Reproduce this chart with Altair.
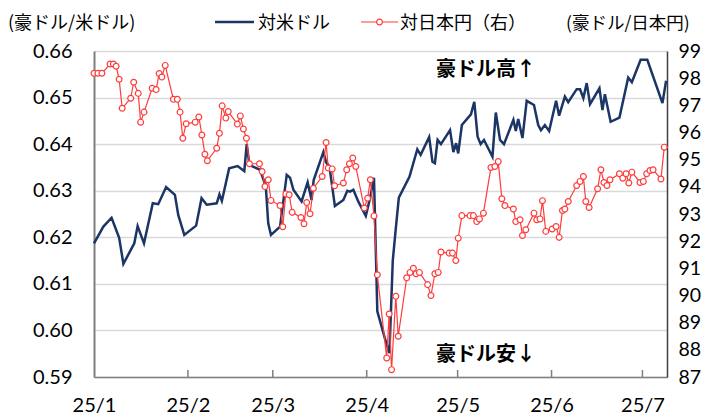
import altair as alt
import pandas as pd

# ---- data (day offset from 2025-01-01, value) ----
usd_day = [0.0,3.1,5.8,8.3,9.7,13.3,14.4,16.5,19.4,21.2,23.8,26.7,27.8,29.8,33.7,35.5,37.2,40.5,41.4,42.2,
           44.6,47.4,49.6,50.4,51.3,54.8,56.7,57.5,58.4,61.4,63.6,64.7,65.8,68.5,70.5,71.8,72.5,75.7,76.6,77.7,
           79.5,82.3,83.6,84.5,85.6,87.2,89.7,91.1,92.4,93.5,96.0,97.5,98.6,99.5,100.6,104.1,106.7,107.8,110.6,111.7,
           112.5,113.4,114.5,117.5,118.6,119.5,120.2,121.4,124.4,125.5,126.6,127.6,128.7,131.5,132.6,134.0,135.3,138.4,139.2,140.0,
           141.4,142.8,145.2,146.6,147.5,148.8,150.2,152.5,153.5,155.4,156.5,159.3,160.4,161.5,162.6,163.7,166.8,167.8,168.6,170.5,
           173.4,176.3,177.5,180.4,182.6,187.6,188.8]
usd_val = [0.6187,0.6223,0.6242,0.6199,0.6143,0.6187,0.6224,0.6187,0.6273,0.6271,0.6308,0.6291,0.6248,0.6205,0.6225,0.6284,0.6270,0.6273,0.6292,0.6278,
           0.6348,0.6353,0.6342,0.6400,0.6355,0.6345,0.6309,0.6230,0.6205,0.6223,0.6334,0.6328,0.6302,0.6277,0.6318,0.6280,0.6323,0.6383,0.6361,0.6352,
           0.6267,0.6280,0.6300,0.6298,0.6302,0.6277,0.6246,0.6284,0.6328,0.6041,0.5983,0.5951,0.6150,0.6212,0.6285,0.6330,0.6389,0.6377,0.6415,0.6362,
           0.6359,0.6409,0.6400,0.6430,0.6383,0.6402,0.6380,0.6441,0.6464,0.6491,0.6416,0.6400,0.6409,0.6373,0.6468,0.6409,0.6400,0.6452,0.6428,0.6454,
           0.6413,0.6493,0.6484,0.6441,0.6430,0.6441,0.6428,0.6493,0.6461,0.6502,0.6490,0.6518,0.6518,0.6499,0.6531,0.6486,0.6520,0.6473,0.6507,0.6448,
           0.6457,0.6543,0.6533,0.6581,0.6581,0.6488,0.6536]

jpy_day = [0.0,1.3,2.6,5.3,6.4,7.3,8.3,9.3,12.1,13.1,
           14.6,15.4,16.5,19.2,20.5,21.5,22.4,23.5,26.2,27.5,
           28.4,29.3,30.4,33.4,34.6,35.6,36.6,37.4,40.5,41.4,
           42.3,43.5,44.3,47.3,48.3,49.3,50.3,51.3,54.6,55.5,
           56.4,57.5,58.4,61.4,62.3,63.3,64.4,65.4,68.3,69.3,
           70.2,71.3,72.4,75.3,76.6,77.3,78.6,79.4,82.3,83.4,
           84.3,85.4,86.4,89.2,90.3,91.2,92.4,93.5,96.6,97.4,
           98.2,99.6,100.4,103.2,104.3,105.4,106.3,107.4,110.1,111.2,
           112.5,113.6,114.5,117.2,118.3,119.4,120.2,121.4,124.1,125.2,
           126.3,127.2,128.5,131.0,132.3,133.4,134.6,135.6,138.4,139.2,
           140.6,141.4,142.5,145.2,146.1,147.2,148.0,149.1,151.2,152.5,
           153.5,154.6,155.4,156.5,159.3,160.4,161.5,162.3,163.4,166.2,
           167.3,168.3,169.3,170.3,173.4,174.5,175.6,176.5,177.5,180.2,
           181.3,182.4,183.5,184.5,187.1,188.2]
jpy_val = [98.18,98.18,98.18,98.52,98.52,98.44,97.96,96.89,97.26,97.85,
           97.44,96.38,96.75,97.63,97.58,98.17,98.04,98.47,97.22,97.22,
           96.75,95.79,96.32,96.38,96.57,95.91,95.20,94.96,95.42,95.97,
           96.98,96.53,96.77,96.31,96.61,96.13,95.79,94.85,94.85,94.56,
           94.01,94.26,93.50,93.31,92.53,93.74,93.71,93.06,92.87,92.64,
           93.42,93.01,93.95,94.38,95.63,94.69,94.66,94.04,94.14,94.63,
           94.85,95.06,94.75,93.22,93.58,94.26,92.93,90.76,87.70,89.32,
           87.27,89.97,88.50,90.65,90.85,91.00,90.80,90.85,90.40,90.00,
           90.80,90.85,91.60,91.56,91.56,91.29,92.11,92.94,92.94,92.94,
           92.72,92.82,93.03,94.71,94.75,94.93,93.56,93.31,93.18,92.72,
           92.79,92.21,92.42,93.03,92.79,92.82,93.49,92.36,92.45,92.54,
           92.14,93.13,93.18,93.46,94.05,94.20,94.38,93.46,93.24,93.93,
           94.63,94.16,94.05,94.26,94.48,94.32,94.48,94.14,94.54,94.16,
           94.20,94.48,94.60,94.63,94.29,95.46]

left_ticks = [0.59, 0.60, 0.61, 0.62, 0.63, 0.64, 0.65, 0.66]
right_ticks = list(range(87, 100))
months = [1, 2, 3, 4, 5, 6, 7]
x_end_day = 189.1

NAVY = "#1b3566"
RED = "#ff3b3b"
NUMFONT = "Lato"
JPFONT = "Noto Sans CJK JP"

base = pd.Timestamp("2025-01-01", tz="UTC")
def iso(d):
    return (base + pd.to_timedelta(d, unit="D")).strftime("%Y-%m-%dT%H:%M:%SZ")
def ms(ts):
    return int(ts.timestamp() * 1000)

usd_df = pd.DataFrame({"date": [iso(d) for d in usd_day], "v": usd_val})
jpy_df = pd.DataFrame({"date": [iso(d) for d in jpy_day], "v": jpy_val})
month_ms = [ms(pd.Timestamp(f"2025-{m:02d}-01", tz="UTC")) for m in months]
tick_df = pd.DataFrame({"date": [pd.Timestamp(f"2025-{m:02d}-01", tz="UTC").strftime("%Y-%m-%dT%H:%M:%SZ") for m in months[1:]]})

W, H = 573, 326

x_enc = alt.X(
    "date:T",
    scale=alt.Scale(type="utc", domain=[ms(base), ms(base + pd.to_timedelta(x_end_day, unit="D"))]),
    axis=alt.Axis(values=month_ms, labelExpr="'25/' + (utcmonth(datum.value) + 1)",
                  ticks=False, grid=False, domainColor="#7f7f7f", domainWidth=1.5,
                  labelFont=NUMFONT, labelFontSize=20, labelColor="black", labelPadding=18,
                  labelFlush=False, labelOverlap=False, title=None),
)

usd = alt.Chart(usd_df).mark_line(color=NAVY, strokeWidth=2.5).encode(
    x=x_enc,
    y=alt.Y("v:Q", scale=alt.Scale(domain=[0.59, 0.66], zero=False, nice=False),
            axis=alt.Axis(orient="left", values=left_ticks, format=".2f", ticks=False,
                          grid=True, gridColor="#d9d9d9", gridWidth=1.5,
                          domainColor="#7f7f7f", domainWidth=2,
                          labelFont=NUMFONT, labelFontSize=20, labelColor="black",
                          labelPadding=22, title=None)),
)

jpy = alt.Chart(jpy_df).mark_line(
    color=RED, strokeWidth=1.2,
    point=alt.OverlayMarkDef(filled=True, fill="white", stroke=RED, strokeWidth=1.2, size=34, opacity=1),
).encode(
    x=x_enc,
    y=alt.Y("v:Q", scale=alt.Scale(domain=[87, 99], zero=False, nice=False),
            axis=alt.Axis(orient="right", values=right_ticks, ticks=False, grid=False,
                          domainColor="#404040", domainWidth=1.5,
                          labelFont=NUMFONT, labelFontSize=19.5, labelColor="black",
                          labelPadding=11, title=None)),
)

ticks = alt.Chart(tick_df).mark_rule(color="#7f7f7f", strokeWidth=1.5).encode(
    x=x_enc, y=alt.value(H - 7), y2=alt.value(H)
)

one = pd.DataFrame({"a": [0]})
def label(text, x, y, align="left", font=JPFONT, size=18, weight="normal", baseline="middle"):
    return alt.Chart(one).mark_text(text=text, align=align, baseline=baseline, font=font,
                                    fontSize=size, fontWeight=weight, color="black").encode(
        x=alt.value(x), y=alt.value(y))

TY = -22  # alphabetic baseline of the header row
title_l = label("(豪ドル/米ドル)", -86, TY, baseline="alphabetic")
title_r = label("(豪ドル/日本円)", 472, TY, size=17.5, baseline="alphabetic")
leg_usd_line = alt.Chart(one).mark_rule(color=NAVY, strokeWidth=2.5).encode(
    x=alt.value(121), x2=alt.value(160), y=alt.value(-29))
leg_usd_txt = label("対米ドル", 164, TY, baseline="alphabetic")
leg_jpy_line = alt.Chart(one).mark_rule(color=RED, strokeWidth=1.2).encode(
    x=alt.value(267), x2=alt.value(304), y=alt.value(-29))
leg_jpy_pt = alt.Chart(one).mark_point(filled=True, fill="white", stroke=RED, strokeWidth=1.2,
                                       size=34, opacity=1).encode(x=alt.value(285.5), y=alt.value(-29))
leg_jpy_txt = label("対日本円（右）", 306, TY, baseline="alphabetic")
ann_hi = label("豪ドル高↑", 392, 19, align="center", size=20, weight="bold")
ann_lo = label("豪ドル安↓", 392, 304, align="center", size=20, weight="bold")

chart = alt.layer(
    usd, jpy, ticks, title_l, title_r, leg_usd_line, leg_usd_txt,
    leg_jpy_line, leg_jpy_pt, leg_jpy_txt, ann_hi, ann_lo,
).resolve_scale(y="independent").properties(
    width=W, height=H,
    autosize=alt.AutoSizeParams(type="none"),
    padding={"left": 86, "top": 43, "right": 34, "bottom": 40},
    background="white",
).configure_view(stroke=None)

chart.save("out.html", embed_options={"renderer": "svg", "actions": False})
